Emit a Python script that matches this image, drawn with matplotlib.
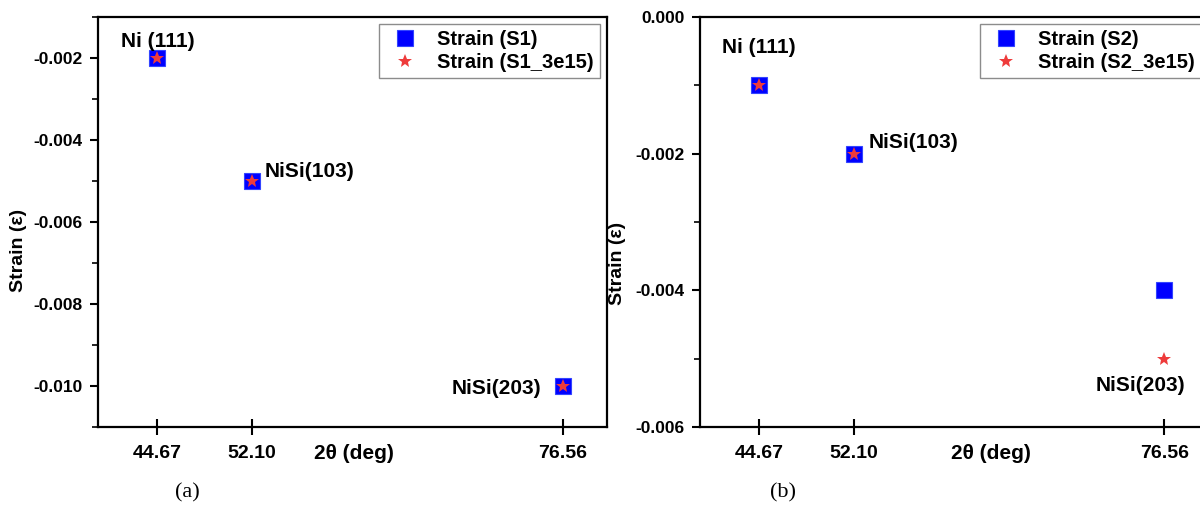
import numpy as np
import matplotlib
matplotlib.use('Agg')
from matplotlib import pyplot as plt

plt.rcParams['font.family'] = ['Liberation Sans', 'DejaVu Sans']
plt.rcParams['font.weight'] = 'bold'

two_theta = [44.67, 52.10, 76.56]
peaks = ['Ni (111)', 'NiSi(103)', 'NiSi(203)']
s1 = [-0.002, -0.005, -0.010]
s1_3e15 = [-0.002, -0.005, -0.010]
s2 = [-0.001, -0.002, -0.004]
s2_3e15 = [-0.001, -0.002, -0.005]
tick_labels = ['44.67', '52.10', '76.56']

blue = '#0000FF'
red = '#EE3B3B'

fig = plt.figure(figsize=(12, 5.11), dpi=100)
ax1 = fig.add_axes([0.0817, 0.1644, 0.424, 0.8023])
ax2 = fig.add_axes([0.5833, 0.1644, 0.4233, 0.8023])


def style(ax, ylim, step, sq, lab):
    ax.plot(two_theta, sq[0], 's', color=blue, ms=sq[2], mec='#3344ff', mew=0.8,
            linestyle='none', label=lab[0])
    ax.plot(two_theta, sq[1], '*', color=red, ms=10.5, mew=0, linestyle='none',
            label=lab[1])
    ax.set_xlim(40, 80)
    ax.set_ylim(*ylim)
    ax.set_xticks(two_theta)
    ax.set_xticklabels(tick_labels)
    ax.set_yticks(np.arange(ylim[0], ylim[1] + 1e-9, step))
    ax.set_yticks(np.arange(ylim[0], ylim[1] + 1e-9, step / 2), minor=True)
    ax.yaxis.set_major_formatter(matplotlib.ticker.FormatStrFormatter('%.3f'))
    ax.tick_params(axis='x', direction='inout', length=12, width=1.5,
                   labelsize=14, pad=7)
    ax.tick_params(axis='y', which='major', direction='out', length=6,
                   width=1.5, labelsize=12.5, pad=5)
    ax.tick_params(axis='y', which='minor', direction='out', length=4, width=1.2)
    for sp in ax.spines.values():
        sp.set_linewidth(1.6)
    ax.set_ylabel('Strain (ε)', fontsize=14, fontweight='bold')
    ax.text(0, -0.065, '2θ (deg)', fontsize=15, fontweight='bold',
            transform=ax.get_xaxis_transform(), ha='center', va='center')
    leg = ax.legend(loc='upper right', fontsize=14.5, frameon=True, fancybox=False,
                    edgecolor='#707070', borderaxespad=0.35, handletextpad=0.6,
                    borderpad=0.3, labelspacing=0.2, markerscale=1.0)
    leg.get_frame().set_linewidth(1.0)
    return ax


style(ax1, (-0.011, -0.001), 0.002, (s1, s1_3e15, 12),
      ('Strain (S1)', 'Strain (S1_3e15)'))
ax1.set_yticks([-0.010, -0.008, -0.006, -0.004, -0.002])
ax1.texts[0].set_x(60.1)
ax1.yaxis.set_label_coords(-0.14, 0.43)

style(ax2, (-0.006, 0.0), 0.002, (s2, s2_3e15, 11),
      ('Strain (S2)', 'Strain (S2_3e15)'))
ax2.texts[0].set_x(62.9)
ax2.yaxis.set_label_coords(-0.145, 0.40)

# peak labels
ann = dict(fontsize=15, fontweight='bold', textcoords='offset points', va='center')
ax1.annotate(peaks[0], (two_theta[0], s1[0]), xytext=(0, 12), ha='center', **ann)
ax1.annotate(peaks[1], (two_theta[1], s1[1]), xytext=(9, 7), ha='left', **ann)
ax1.annotate(peaks[2], (two_theta[2], s1[2]), xytext=(-16, -2), ha='right', **ann)
ax2.annotate(peaks[0], (two_theta[0], s2[0]), xytext=(0, 27), ha='center', **ann)
ax2.annotate(peaks[1], (two_theta[1], s2[1]), xytext=(11, 8), ha='left', **ann)
ax2.annotate(peaks[2], (two_theta[2], s2_3e15[2]), xytext=(-17, -19), ha='center', **ann)

fig.text(187 / 1200, 1 - 493 / 511, '(a)', family='Liberation Serif',
         fontweight='normal', fontsize=16, ha='center', va='center')
fig.text(783 / 1200, 1 - 493 / 511, '(b)', family='Liberation Serif',
         fontweight='normal', fontsize=16, ha='center', va='center')

fig.savefig('out.png', dpi=100)
